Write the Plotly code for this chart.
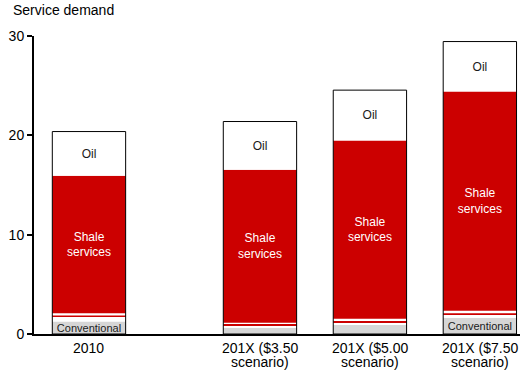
import numpy as np
import plotly.graph_objects as go

# ---- data ----
categories = ["2010", "201X ($3.50<br>scenario)", "201X ($5.00<br>scenario)", "201X ($7.50<br>scenario)"]
conventional = [1.27, 0.63, 0.90, 1.64]
other_a = [0.45, 0.27, 0.30, 0.33]      # thin white band
other_b = [0.13, 0.12, 0.13, 0.13]      # thin red band
other_c = [0.25, 0.12, 0.20, 0.25]      # thin white band
shale = [13.83, 15.39, 17.95, 22.06]
oil = [4.45, 4.86, 5.07, 5.03]
conv_labels = ["Conventional", "", "", "Conventional"]
shale_labels = ["Shale<br>services"] * 4
oil_labels = ["Oil"] * 4
y_ticks = [0, 10, 20, 30]

# ---- layout helpers ----
x_pos = [0, 1.555, 2.555, 3.555]
bar_w = 0.667
RED = "#CC0000"
GRAY = "#D6D6D6"
FONT = "Liberation Sans, Arial, sans-serif"
PLOT_H = 373 - 36 - 39

layers = [
    (conventional, GRAY, conv_labels, "#1a1a1a", 11),
    (other_a, "white", None, None, None),
    (other_b, RED, None, None, None),
    (other_c, "white", None, None, None),
    (shale, RED, shale_labels, "white", 12),
    (oil, "white", oil_labels, "#1a1a1a", 12),
]

fig = go.Figure()
base = np.zeros(len(x_pos))
for vals, color, labels, tcolor, tsize in layers:
    vals = np.array(vals, dtype=float)
    kw = {}
    if labels is not None:
        kw = dict(text=labels, textposition="inside", insidetextanchor="middle",
                  textangle=0, constraintext="none",
                  insidetextfont=dict(color=tcolor, size=tsize, family=FONT))
    fig.add_trace(go.Bar(x=x_pos, y=vals, base=base.copy(), width=bar_w,
                         marker=dict(color=color, line=dict(width=0)),
                         hoverinfo="skip", showlegend=False, **kw))
    base = base + vals

# outline around each whole bar
fig.add_trace(go.Bar(x=x_pos, y=base, base=np.zeros(len(x_pos)), width=bar_w,
                     marker=dict(color="rgba(0,0,0,0)", line=dict(color="black", width=1)),
                     hoverinfo="skip", showlegend=False))

# category labels (tight line spacing, like the reference)
annotations = [dict(text="Service demand", xref="paper", yref="paper",
                    x=-23 / 486, y=1 + 26 / PLOT_H, xanchor="left", yanchor="middle",
                    showarrow=False, font=dict(size=14, family=FONT, color="black"))]
for xp, cat in zip(x_pos, categories):
    for i, line in enumerate(cat.split("<br>")):
        annotations.append(dict(text=line, xref="x", yref="paper", x=xp,
                                y=-(14 + 14 * i) / PLOT_H, xanchor="center", yanchor="middle",
                                showarrow=False, font=dict(size=14, family=FONT, color="black")))

fig.update_layout(
    width=530, height=373,
    barmode="overlay",
    plot_bgcolor="white", paper_bgcolor="white",
    margin=dict(l=34, r=10, t=36, b=39, autoexpand=False),
    font=dict(family=FONT, size=14, color="black"),
    xaxis=dict(range=[-0.5, 3.92], tickvals=x_pos, showticklabels=False,
               showline=True, linecolor="black", linewidth=2, ticks="",
               showgrid=False, zeroline=False, automargin=False),
    yaxis=dict(range=[0, 30], tickvals=y_ticks, showline=True, linecolor="black",
               linewidth=2, ticks="outside", ticklen=5, tickwidth=2, tickcolor="black",
               showgrid=False, zeroline=False, tickfont=dict(size=14), automargin=False),
    annotations=annotations,
)

fig.write_html("out.html", config={"displayModeBar": False},
               post_script="document.body.style.margin='0';document.body.style.overflow='hidden';")
